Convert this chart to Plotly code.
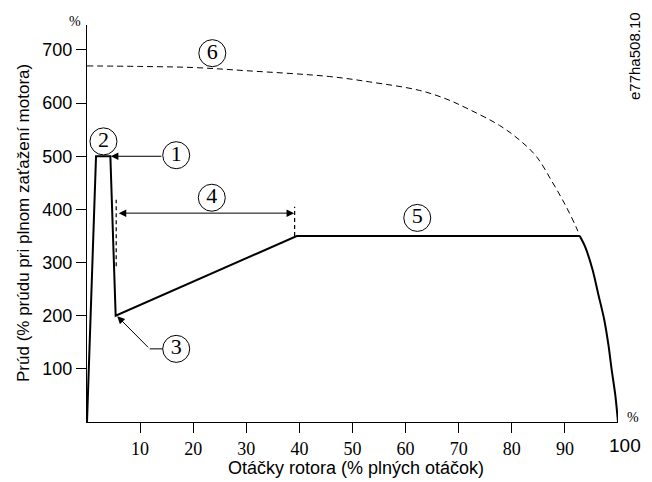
import plotly.graph_objects as go

# Main current curve (solid, polyline part)
curve_x = [0, 1.7, 4.4, 5.4, 39.5, 92.8]
curve_y = [0, 500, 500, 200, 350, 350]
# Solid fall-off near synchronous speed
tail_x = [92.8, 93.8, 95.2, 96.3, 97.4, 98.2, 98.8, 99.5, 100]
tail_y = [350, 330, 287, 240, 193, 145, 99, 50, 0]

# Dashed curve (6)
dash_x = [0, 10, 20, 30, 45.7, 53.2, 62.6, 67.6, 72, 77.7, 81.4, 84.6, 87.6, 90.2, 92.1, 92.8]
dash_y = [670, 669, 667, 661, 650, 640, 624, 608, 588, 558, 531, 500, 452, 406, 367, 350]

# Circled labels
label_text = ["1", "2", "3", "4", "5", "6"]
label_x = [16.8, 3.1, 16.8, 23.5, 62.2, 23.6]
label_y = [502, 528, 137.6, 422, 384, 694]

x_ticks = [10, 20, 30, 40, 50, 60, 70, 80, 90]
y_ticks = [100, 200, 300, 400, 500, 600, 700]

OFF = 8  # default page body margin
W, H = 652 - OFF, 482 - OFF
L, R, T, B = 87 - OFF, 34, 25 - OFF, 60
pw, ph = W - L - R, H - T - B


def px(x, y):
    # window pixel -> paper coordinates
    return (x - OFF - L) / pw, 1 - (y - OFF - T) / ph


fig = go.Figure()

fig.add_trace(go.Scatter(x=dash_x, y=dash_y, mode="lines",
                         line=dict(color="black", width=1, dash="6px,4px", shape="spline", smoothing=1.0),
                         hoverinfo="skip", showlegend=False))
fig.add_trace(go.Scatter(x=curve_x, y=curve_y, mode="lines",
                         line=dict(color="black", width=2),
                         hoverinfo="skip", showlegend=False))
fig.add_trace(go.Scatter(x=tail_x, y=tail_y, mode="lines",
                         line=dict(color="black", width=2, shape="spline", smoothing=0.8),
                         hoverinfo="skip", showlegend=False))
fig.add_trace(go.Scatter(x=label_x, y=label_y, mode="markers+text",
                         text=label_text, textposition="middle center",
                         textfont=dict(family="Liberation Serif", size=22, color="black"),
                         marker=dict(symbol="circle", size=27, color="white",
                                     line=dict(color="black", width=1)),
                         hoverinfo="skip", showlegend=False))

# Vertical dashed markers
fig.add_shape(type="line", x0=5.5, x1=5.5, y0=293, y1=418, xref="x", yref="y",
              line=dict(color="black", width=1.2, dash="4px,3px"))
fig.add_shape(type="line", x0=39.1, x1=39.1, y0=350, y1=405, xref="x", yref="y",
              line=dict(color="black", width=1.2, dash="4px,3px"))

# Arrow 1
fig.add_annotation(x=4.5, y=500, ax=14.3, ay=500, xref="x", yref="y", axref="x", ayref="y",
                   text="", showarrow=True, arrowhead=2, arrowsize=1.5, arrowwidth=1, arrowcolor="black")
# Arrow 4 (double)
fig.add_annotation(x=39.0, y=393, ax=5.7, ay=393, xref="x", yref="y", axref="x", ayref="y",
                   text="", showarrow=True, arrowhead=2, startarrowhead=2, arrowside="end+start",
                   arrowsize=1.5, startarrowsize=1.5, arrowwidth=1, arrowcolor="black")
# Arrow 3
fig.add_shape(type="line", x0=11.8, x1=14.3, y0=137.6, y1=137.6, xref="x", yref="y",
              line=dict(color="black", width=1))
fig.add_annotation(x=5.7, y=199, ax=11.8, ay=137.6, xref="x", yref="y", axref="x", ayref="y",
                   text="", showarrow=True, arrowhead=2, arrowsize=1.5, arrowwidth=1, arrowcolor="black")

texts = [
    dict(x=75, y=22, text="%", font=dict(family="Liberation Serif", size=14, color="black"), angle=0),
    dict(x=633, y=417, text="%", font=dict(family="Liberation Serif", size=14, color="black"), angle=0),
    dict(x=624.5, y=446, text="100", font=dict(family="Liberation Sans", size=19, color="black"), angle=0),
    dict(x=634, y=56, text="e77ha508.10", font=dict(family="Liberation Sans", size=15, color="black"), angle=-90),
    dict(x=356, y=468, text="Otáčky rotora (% plných otáčok)",
         font=dict(family="Liberation Sans", size=18, color="black"), angle=0),
    dict(x=23, y=223, text="Prúd (% prúdu pri plnom zaťažení motora)",
         font=dict(family="Liberation Sans", size=17, color="black"), angle=-90),
]
for a in texts:
    xx, yy = px(a["x"], a["y"])
    fig.add_annotation(x=xx, y=yy, xref="paper", yref="paper", text=a["text"], showarrow=False,
                       font=a["font"], textangle=a["angle"], xanchor="center", yanchor="middle")

fig.update_layout(
    width=W, height=H,
    margin=dict(l=L, r=R, t=T, b=B, autoexpand=False),
    plot_bgcolor="white", paper_bgcolor="white",
    showlegend=False,
    xaxis=dict(range=[0, 100], showgrid=False, zeroline=False, showline=True, automargin=False,
               linecolor="black", linewidth=1, ticks="outside", ticklen=10, tickcolor="black",
               tickvals=x_ticks, ticktext=[str(v) for v in x_ticks],
               tickfont=dict(family="Liberation Serif", size=18, color="black")),
    yaxis=dict(range=[0, 747], showgrid=False, zeroline=False, showline=True, automargin=False,
               linecolor="black", linewidth=1, ticks="outside", ticklen=10, tickcolor="black",
               tickvals=y_ticks, ticktext=[str(v) for v in y_ticks],
               tickfont=dict(family="Liberation Sans", size=18, color="black")),
)

fig.write_html("out.html")
